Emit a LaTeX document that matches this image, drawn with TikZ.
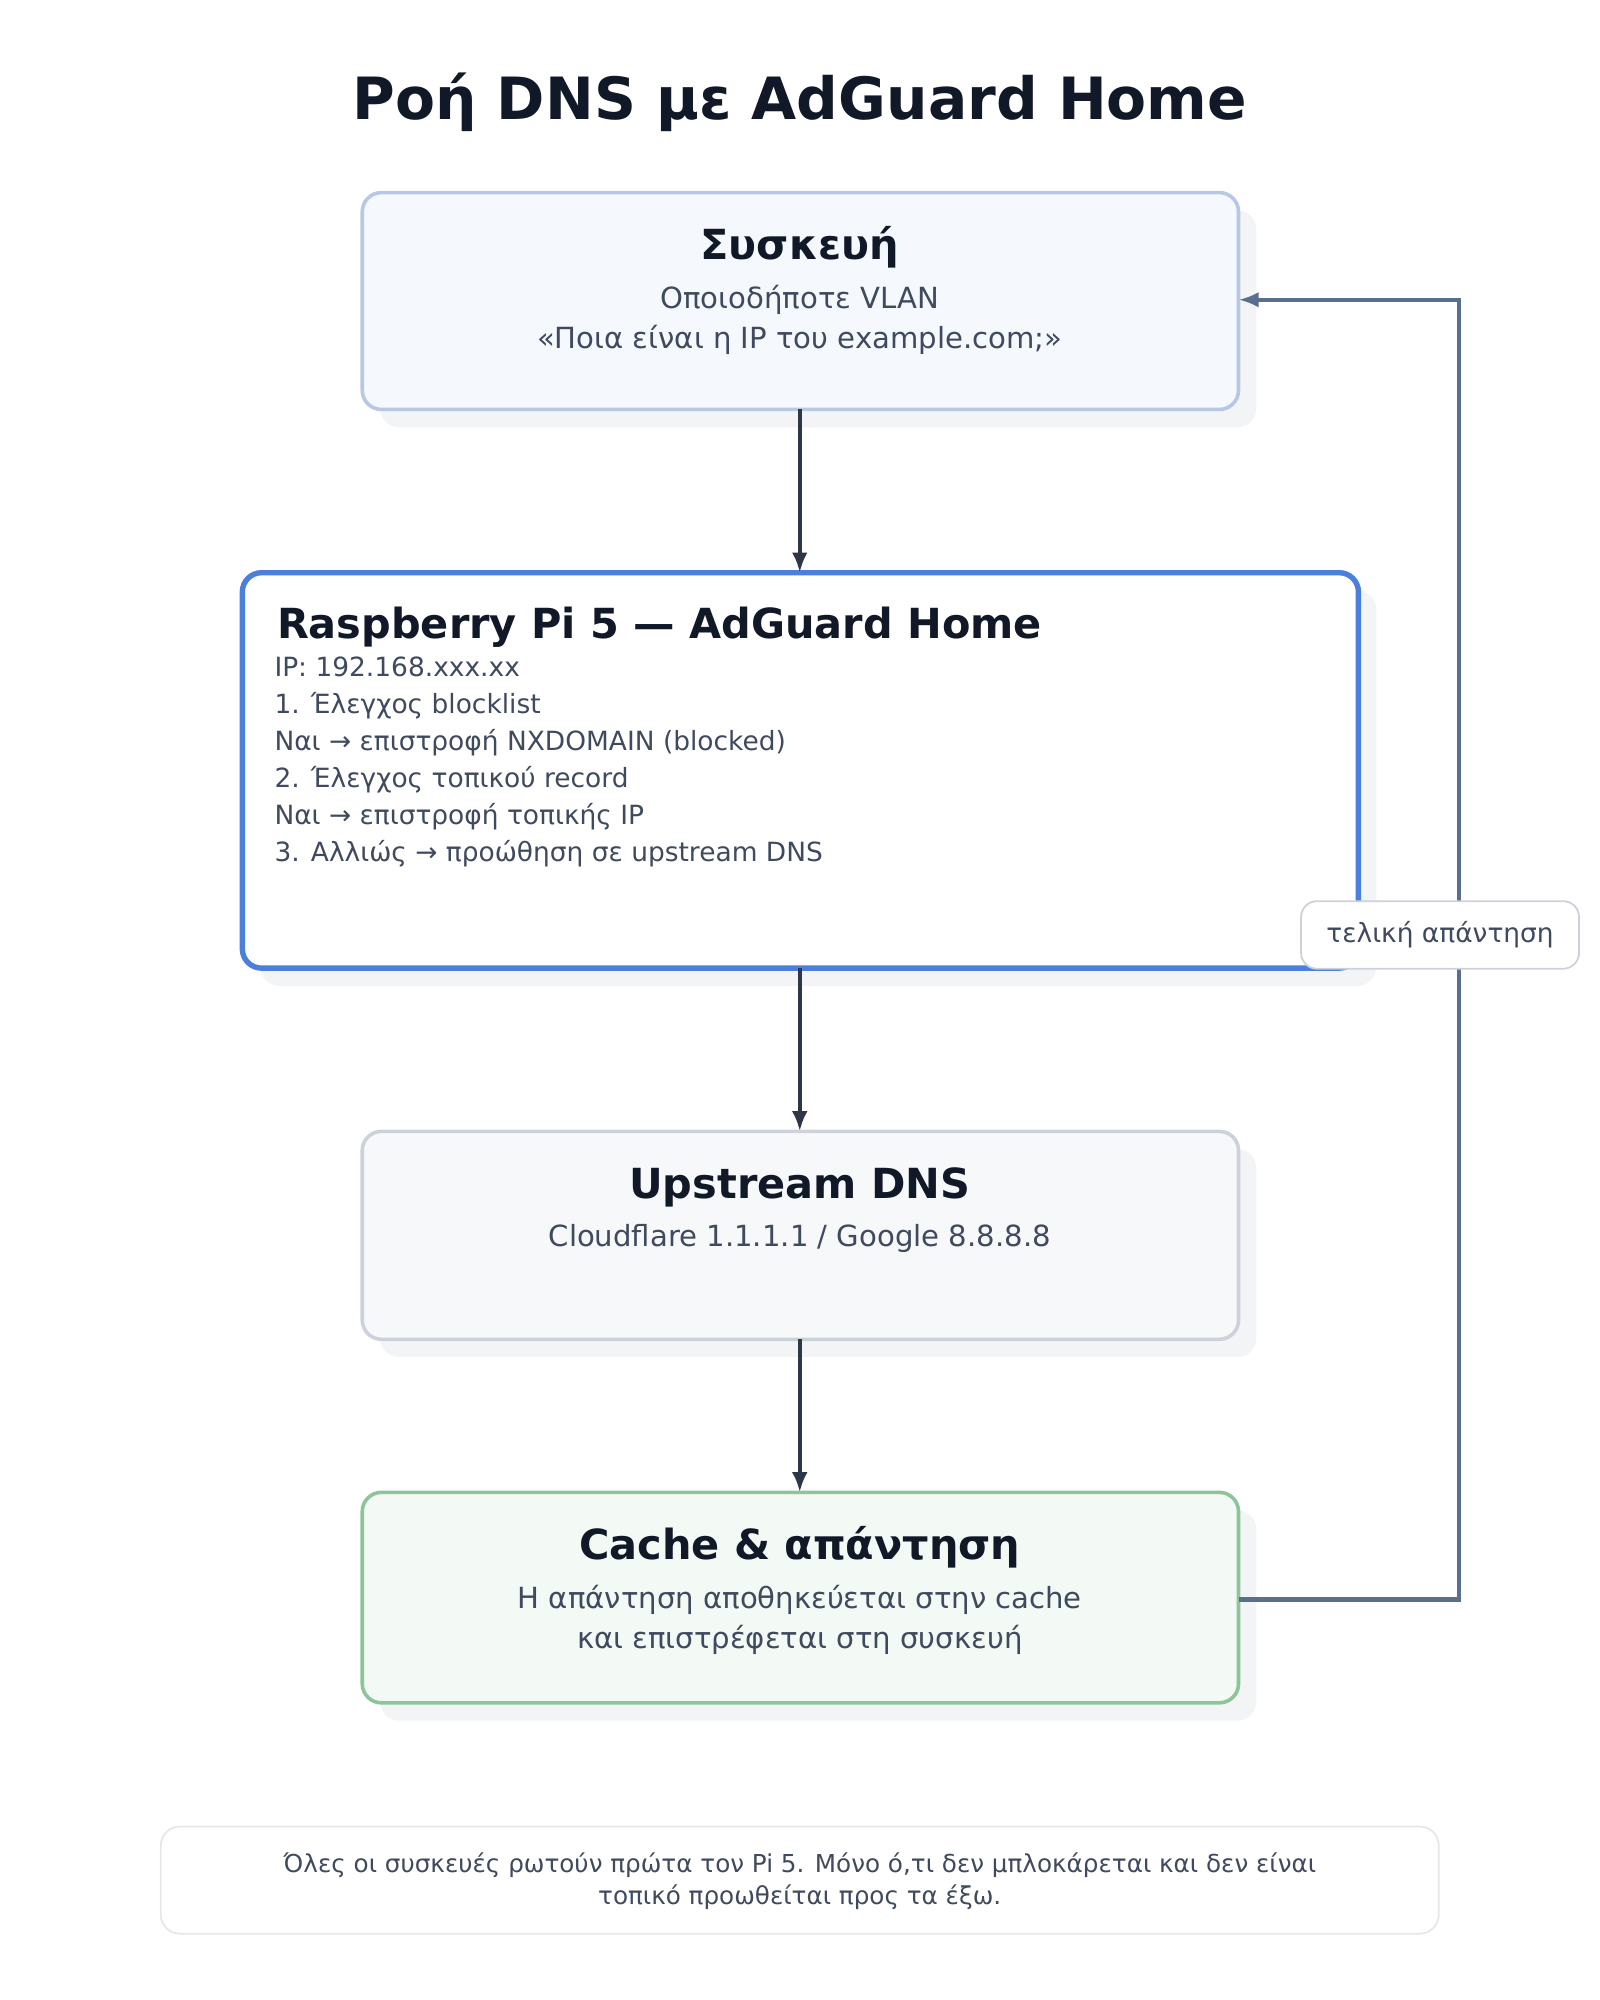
\documentclass[tikz,border=0pt]{standalone}
\usepackage{fontspec}
\setmainfont{DejaVu Sans}
\usetikzlibrary{arrows.meta}
\definecolor{ink}{HTML}{111827}
\definecolor{txt}{HTML}{3F4A5E}
\definecolor{arr}{HTML}{2D3748}
\definecolor{fb}{HTML}{5A6E8E}
\definecolor{shadow}{HTML}{F3F4F6}
\definecolor{b1d}{HTML}{B8C7E3}
\definecolor{b1f}{HTML}{F5F8FD}
\definecolor{b2d}{HTML}{4A7FDB}
\definecolor{b3d}{HTML}{CDD1DC}
\definecolor{b3f}{HTML}{F7F8FA}
\definecolor{b4d}{HTML}{8DC59A}
\definecolor{b4f}{HTML}{F3F9F4}
\definecolor{ftd}{HTML}{E5E7EB}
\begin{document}
\begin{tikzpicture}[x=0.02cm,y=-0.02cm,
  box/.style={rounded corners=0.3cm,line width=1.6pt},
  sh/.style={fill=shadow,rounded corners=0.3cm},
  ttl/.style={font=\fontsize{18.5}{22}\selectfont\bfseries,text=ink},
  body/.style={font=\fontsize{13}{18}\selectfont,text=txt,align=center},
  flow/.style={draw=arr,line width=1.8pt,-{Latex[length=9pt,width=7pt]}},
  back/.style={draw=fb,line width=1.8pt,-{Latex[length=9pt,width=7pt]}}]
\useasboundingbox (0,0) rectangle (1254,1568);
% shadows
\fill[sh] (298,165) rectangle (985,335);
\fill[sh] (204,463) rectangle (1079,773);
\fill[sh] (298,901) rectangle (985,1064);
\fill[sh] (298,1184) rectangle (985,1349);
% boxes
\draw[box,draw=b1d,fill=b1f] (284,151) rectangle (971,321);
\draw[box,draw=b2d,line width=2.4pt,fill=white] (190,449) rectangle (1065,759);
\draw[box,draw=b3d,fill=b3f] (284,887) rectangle (971,1050);
\draw[box,draw=b4d,fill=b4f] (284,1170) rectangle (971,1335);
\draw[rounded corners=0.3cm,line width=0.8pt,draw=ftd,fill=white] (126,1432) rectangle (1128,1516);
% named anchors
\coordinate (b1t) at (627,321); \coordinate (b2t) at (627,449);
\coordinate (b2b) at (627,759); \coordinate (b3t) at (627,887);
\coordinate (b3b) at (627,1050); \coordinate (b4t) at (627,1170);
\coordinate (b4r) at (971,1254); \coordinate (b1r) at (971,235);
\coordinate (c1) at (1144,1254); \coordinate (c2) at (1144,235);
\draw[flow] (b1t) -- (b2t);
\draw[flow] (b2b) -- (b3t);
\draw[flow] (b3b) -- (b4t);
\draw[back] (b4r) -- (c1) -- (c2) -- (b1r);
% label
\node[draw=b3d,line width=0.8pt,fill=white,rounded corners=0.25cm,minimum width=4.36cm,minimum height=1.06cm,font=\fontsize{11.8}{14}\selectfont,text=txt] (lab) at (1129,733) {τελική απάντηση};
% texts
\node[font=\fontsize{26}{30}\selectfont\bfseries,text=ink] (title) at (627,80) {Ροή DNS με AdGuard Home};
\node[ttl] (t1) at (627,194) {Συσκευή};
\node[body] (s1) at (627,251) {Οποιοδήποτε VLAN\\«Ποια είναι η IP του example.com;»};
\node[ttl,anchor=west] (t2) at (211,492) {Raspberry Pi 5 — AdGuard Home};
\node[anchor=north west,font=\fontsize{11.8}{16.45}\selectfont,text=txt,align=left] (s2) at (209,509) {IP: 192.168.xxx.xx\\1. Έλεγχος blocklist\\Ναι → επιστροφή NXDOMAIN (blocked)\\2. Έλεγχος τοπικού record\\Ναι → επιστροφή τοπικής IP\\3. Αλλιώς → προώθηση σε upstream DNS};
\node[ttl] (t3) at (627,931) {Upstream DNS};
\node[body] (s3) at (627,971) {Cloudflare 1.1.1.1 / Google 8.8.8.8};
\node[ttl] (t4) at (627,1213) {Cache \& απάντηση};
\node[body] (s4) at (627,1270) {Η απάντηση αποθηκεύεται στην cache\\και επιστρέφεται στη συσκευή};
\node[font=\fontsize{11}{14}\selectfont,text=txt,align=center] (foot) at (627,1475) {Όλες οι συσκευές ρωτούν πρώτα τον Pi 5. Μόνο ό,τι δεν μπλοκάρεται και δεν είναι\\τοπικό προωθείται προς τα έξω.};
\end{tikzpicture}
\end{document}
